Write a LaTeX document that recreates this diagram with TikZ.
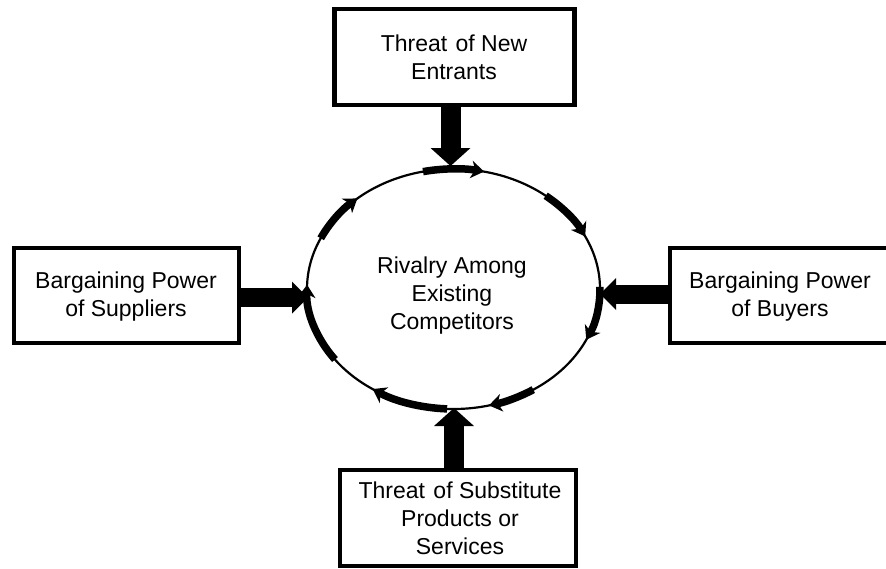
\documentclass[tikz,border=0pt]{standalone}
\usepackage{fontspec}
\setmainfont{Liberation Sans}
\usetikzlibrary{arrows.meta}
\newcommand\rivarc[2]{\draw[seg] ([shift={(#1:146.5 and 120)}]C) arc[start angle=#1, end angle=#2, x radius=146.5, y radius=120];}
\begin{document}
\begin{tikzpicture}[x=1pt,y=1pt,yscale=-1,
  box/.style={draw, line width=4.5pt, rectangle, inner sep=0pt},
  lbl/.style={font=\fontsize{23}{28}\selectfont, align=center, inner sep=0pt, anchor=north},
  bigarrow/.style={line width=20pt, -{Triangle[length=18pt,width=40pt,line width=0pt]}},
  sidearrow/.style={line width=19pt, -{Triangle[length=16pt,width=32pt,line width=0pt]}},
  seg/.style={line width=7.5pt, -{Stealth[length=13pt,width=18pt,inset=4pt,line width=0pt]}},
  ring/.style={draw, line width=2.2pt},
]
\useasboundingbox (0,0) rectangle (886,568);
\fill[white] (0,0) rectangle (886,568);

% boxes
\node[box, minimum width=240pt, minimum height=96pt] (newent) at (454.5,57) {};
\node[box, minimum width=225pt, minimum height=95pt] (supp) at (126.5,295.5) {};
\node[box, minimum width=222pt, minimum height=95pt] (buy) at (781,295.5) {};
\node[box, minimum width=236pt, minimum height=96pt] (subst) at (458,518) {};

% labels
\node[lbl] (tnew) at (454,35) {Threat\kern2pt{} of New\\Entrants};
\node[lbl] (tsup) at (126,271.5) {Bargaining Power\\of Suppliers};
\node[lbl] (tbuy) at (780,271.5) {Bargaining Power\\of Buyers};
\node[lbl] (tsub) at (460,481.5) {Threat\kern2pt{} of Substitute\\Products or\\Services};

% rivalry ellipse
\coordinate (C) at (453.5,289);
\draw[ring] (C) ellipse[x radius=146.5, y radius=120];
\node[lbl] (triv) at (452,256.5) {Rivalry Among\\Existing\\Competitors};

% clockwise arc segments
\rivarc{-102}{-78}
\rivarc{-51}{-26}
\rivarc{-1}{25}
\rivarc{57}{76}
\rivarc{92.5}{123.5}
\rivarc{144}{182}
\rivarc{205}{229}

% force arrows
\coordinate (tT) at (450.5,166);
\coordinate (tB) at (454,408);
\coordinate (tL) at (308,297.5);
\coordinate (tR) at (600,294);
\draw[bigarrow] (newent.south -| tT) -- (tT);
\draw[bigarrow] (subst.north -| tB) -- (tB);
\draw[sidearrow] (supp.east |- tL) -- (tL);
\draw[sidearrow] (buy.west |- tR) -- (tR);
\end{tikzpicture}
\end{document}
